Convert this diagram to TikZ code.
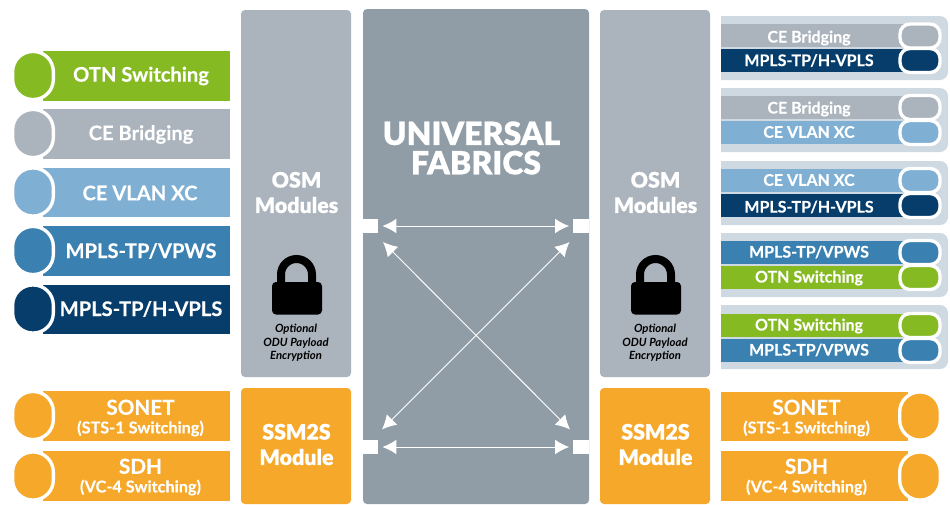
\documentclass[tikz,border=0pt]{standalone}
\usepackage{fontspec}
\setmainfont{Lato}
\newfontfamily\blackfont{Lato}[UprightFont=*-Black,FakeBold=0.6]
\newfontfamily\tilefont{Lato}[UprightFont=*-Bold,FakeBold=0.25]
\usetikzlibrary{arrows.meta}
\definecolor{otngreen}{HTML}{85BA23}
\definecolor{cegrey}{HTML}{ABB3BD}
\definecolor{vlanblue}{HTML}{7FB0D3}
\definecolor{vpwsblue}{HTML}{3A80B0}
\definecolor{vplsnavy}{HTML}{063D6B}
\definecolor{ssmorange}{HTML}{F5A82A}
\definecolor{fabricgrey}{HTML}{919DA6}
\definecolor{groupback}{HTML}{CFD9E1}
\tikzset{
	panel/.style={rectangle, rounded corners=3pt, inner sep=0pt},
	barleft/.style={rectangle, inner sep=0pt, minimum width=140.25pt, minimum height=37pt},
	barright/.style={rectangle, inner sep=0pt, minimum width=138pt, minimum height=17.25pt},
	barsynth/.style={rectangle, inner sep=0pt, minimum width=140.25pt, minimum height=37pt},
	capbig/.style={rectangle, draw=white, line width=2.5pt, rounded corners=15pt, inner sep=0pt, minimum width=30.5pt, minimum height=36pt},
	capsmall/.style={rectangle, draw=white, line width=2.5pt, rounded corners=7.5pt, inner sep=0pt, minimum width=30pt, minimum height=18pt},
	lefttext/.style={text=white, font=\tilefont\fontsize{15.1}{15.1}\selectfont},
	righttext/.style={text=white, font=\tilefont\fontsize{12}{12}\selectfont},
	synthtext/.style={text=white, align=center, font=\tilefont\fontsize{12.2}{14}\selectfont},
	moduletext/.style={text=white, align=center, font=\blackfont\fontsize{16}{19}\selectfont},
	locktext/.style={align=center, font=\bfseries\itshape\fontsize{8.5}{10.2}\selectfont},
	port/.style={rectangle, fill=white, inner sep=0pt, minimum width=11.5pt, minimum height=10.5pt},
	fabricarrow/.style={{Latex[length=10.5pt,width=11pt]}-{Latex[length=10.5pt,width=11pt]}, draw=white, line width=0.7pt, shorten >=3pt, shorten <=3pt},
	shackle/.style={draw=black, line width=6pt}
}
\begin{document}
\begin{tikzpicture}[x=0.75pt, y=-0.75pt]
	\useasboundingbox (0,0) rectangle (950,504);
	% big panels
	\node [panel, fill=cegrey, minimum width=82.5pt, minimum height=275.25pt] (osmleft) at (296,193.5) {};
	\node [panel, fill=cegrey, minimum width=82.5pt, minimum height=275.25pt] (osmright) at (655,193.5) {};
	\node [panel, fill=ssmorange, minimum width=82.5pt, minimum height=87pt] (ssmleft) at (296,446) {};
	\node [panel, fill=ssmorange, minimum width=82.5pt, minimum height=87pt] (ssmright) at (655,446) {};
	\node [panel, fill=fabricgrey, minimum width=169.5pt, minimum height=371.25pt] (fabric) at (476,256.5) {};
	\node [text=white, align=center, font=\blackfont\fontsize{24}{22}\selectfont] (fabrictitle) at (471.5,148) {UNIVERSAL\\\hspace*{6.75pt}FABRICS};
	\node [moduletext] (osmlefttext) at (296.5,192.5) {OSM\\Modules};
	\node [moduletext] (osmrighttext) at (655.5,192.5) {OSM\\Modules};
	\node [moduletext] (ssmlefttext) at (296.5,444.5) {SSM2S\\Module};
	\node [moduletext] (ssmrighttext) at (655.5,444.5) {SSM2S\\Module};
	% left tiles
	\node [barleft, fill=otngreen] (otnbar) at (136.5,76) {};
	\node [capbig, fill=otngreen] (otncap) at (33,75.5) {};
	\node [lefttext] (otntext) at (141,76) {OTN Switching};
	\node [barleft, fill=cegrey] (cebar) at (136.5,134) {};
	\node [capbig, fill=cegrey] (cecap) at (33,133.5) {};
	\node [lefttext] (cetext) at (141,134.5) {CE Bridging};
	\node [barleft, fill=vlanblue] (vlanbar) at (136.5,192.5) {};
	\node [capbig, fill=vlanblue] (vlancap) at (33,192) {};
	\node [lefttext] (vlantext) at (140,193) {CE VLAN XC};
	\node [barleft, fill=vpwsblue] (vpwsbar) at (136.5,251) {};
	\node [capbig, fill=vpwsblue] (vpwscap) at (33,250.5) {};
	\node [lefttext] (vpwstext) at (141,251) {MPLS-TP/VPWS};
	\node [barleft, fill=vplsnavy] (vplsbar) at (136.5,309.5) {};
	\node [capbig, fill=vplsnavy] (vplscap) at (33,309) {};
	\node [lefttext] (vplstext) at (141,309) {MPLS-TP/H-VPLS};
	\node [barsynth, fill=ssmorange] (sonetbar) at (136.5,416) {};
	\node [capbig, fill=ssmorange] (sonetcap) at (33,415.5) {};
	\node [synthtext] (sonettext) at (140.5,418) {{\fontsize{15.5}{15}\selectfont SONET}\\(STS-1 Switching)};
	\node [barsynth, fill=ssmorange] (sdhbar) at (136.5,476) {};
	\node [capbig, fill=ssmorange] (sdhcap) at (33,476) {};
	\node [synthtext] (sdhtext) at (140.5,477) {{\fontsize{15.5}{15}\selectfont SDH}\\(VC-4 Switching)};
	% right groups
	\fill [groupback] (721,16) [rounded corners=6pt] -- (948,16) -- (948,80) [sharp corners] -- (721,80) -- cycle;
	\fill [groupback] (721,88) [rounded corners=6pt] -- (948,88) -- (948,152) [sharp corners] -- (721,152) -- cycle;
	\fill [groupback] (721,161) [rounded corners=6pt] -- (948,161) -- (948,225) [sharp corners] -- (721,225) -- cycle;
	\fill [groupback] (721,233) [rounded corners=6pt] -- (948,233) -- (948,297) [sharp corners] -- (721,297) -- cycle;
	\fill [groupback] (721,305) [rounded corners=6pt] -- (948,305) -- (948,369) [sharp corners] -- (721,369) -- cycle;
	% right tiles
	\node [barright, fill=cegrey] (cebarA) at (813,35.5) {};
	\node [capsmall, fill=cegrey] (cecapA) at (920,36) {};
	\node [righttext] (cetextA) at (809,38) {CE Bridging};
	\node [barright, fill=vplsnavy] (vplsbarA) at (813,60.5) {};
	\node [capsmall, fill=vplsnavy] (vplscapA) at (920,60.5) {};
	\node [righttext] (vplstextA) at (809,60.5) {MPLS-TP/H-VPLS};
	\node [barright, fill=cegrey] (cebarB) at (813,107.5) {};
	\node [capsmall, fill=cegrey] (cecapB) at (920,107.5) {};
	\node [righttext] (cetextB) at (809,109) {CE Bridging};
	\node [barright, fill=vlanblue] (vlanbarB) at (813,132.5) {};
	\node [capsmall, fill=vlanblue] (vlancapB) at (920,132.5) {};
	\node [righttext] (vlantextB) at (809,132) {CE VLAN XC};
	\node [barright, fill=vlanblue] (vlanbarC) at (813,180.5) {};
	\node [capsmall, fill=vlanblue] (vlancapC) at (920,180.5) {};
	\node [righttext] (vlantextC) at (809,180) {CE VLAN XC};
	\node [barright, fill=vplsnavy] (vplsbarC) at (813,205.5) {};
	\node [capsmall, fill=vplsnavy] (vplscapC) at (920,205.5) {};
	\node [righttext] (vplstextC) at (809,207) {MPLS-TP/H-VPLS};
	\node [barright, fill=vpwsblue] (vpwsbarD) at (813,252.5) {};
	\node [capsmall, fill=vpwsblue] (vpwscapD) at (920,252.5) {};
	\node [righttext] (vpwstextD) at (809,252) {MPLS-TP/VPWS};
	\node [barright, fill=otngreen] (otnbarD) at (813,277.5) {};
	\node [capsmall, fill=otngreen] (otncapD) at (920,277.5) {};
	\node [righttext] (otntextD) at (809,278) {OTN Switching};
	\node [barright, fill=otngreen] (otnbarE) at (813,325.5) {};
	\node [capsmall, fill=otngreen] (otncapE) at (920,325.5) {};
	\node [righttext] (otntextE) at (809,326) {OTN Switching};
	\node [barright, fill=vpwsblue] (vpwsbarE) at (813,350.5) {};
	\node [capsmall, fill=vpwsblue] (vpwscapE) at (920,350.5) {};
	\node [righttext] (vpwstextE) at (809,350) {MPLS-TP/VPWS};
	\node [barsynth, fill=ssmorange] (sonetbarR) at (814.5,416.5) {};
	\node [capbig, fill=ssmorange] (sonetcapR) at (920,416) {};
	\node [synthtext] (sonettextR) at (806.5,418) {{\fontsize{15.5}{15}\selectfont SONET}\\(STS-1 Switching)};
	\node [barsynth, fill=ssmorange] (sdhbarR) at (814.5,476) {};
	\node [capbig, fill=ssmorange] (sdhcapR) at (920,476) {};
	\node [synthtext] (sdhtextR) at (806.5,477) {{\fontsize{15.5}{15}\selectfont SDH}\\(VC-4 Switching)};
	% padlocks
	\draw [shackle] (281,284) -- (281,274.5) arc (180:360:15.5) -- (312,284);
	\fill [black, rounded corners=3pt] (272,282) rectangle (322,314.5);
	\node [locktext] (lockleft) at (296,343) {Optional\\ODU Payload\\Encryption};
	\draw [shackle] (640,284) -- (640,274.5) arc (180:360:15.5) -- (671,284);
	\fill [black, rounded corners=3pt] (631,282) rectangle (681,314.5);
	\node [locktext] (lockright) at (655,343) {Optional\\ODU Payload\\Encryption};
	% ports and arrows
	\node [port] (portlt) at (370.5,226) {};
	\node [port] (portrt) at (581,226) {};
	\node [port] (portlb) at (370.5,447) {};
	\node [port] (portrb) at (581,447) {};
	\coordinate (crosslt) at (383,242);
	\coordinate (crossrt) at (569.5,242);
	\coordinate (crosslb) at (382,429.5);
	\coordinate (crossrb) at (570,429.5);
	\draw [fabricarrow] (portlt) -- (portrt);
	\draw [fabricarrow] (portlb) -- (portrb);
	\draw [fabricarrow, shorten >=0pt, shorten <=0pt] (crosslt) -- (crossrb);
	\draw [fabricarrow, shorten >=0pt, shorten <=0pt] (crosslb) -- (crossrt);
\end{tikzpicture}
\end{document}
